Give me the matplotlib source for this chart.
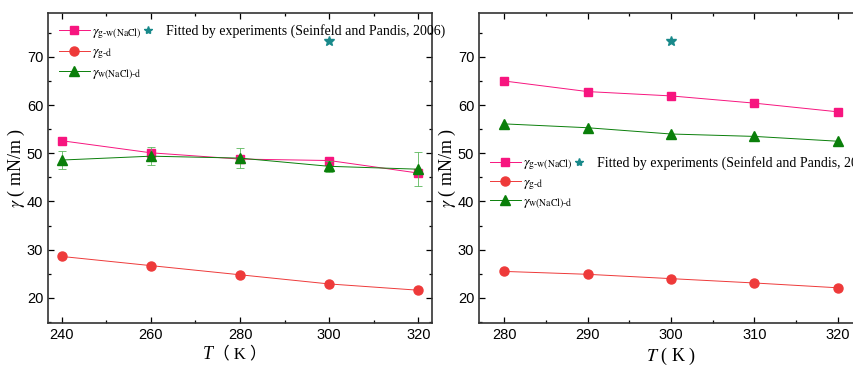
import matplotlib.pyplot as plt
from matplotlib.lines import Line2D
from matplotlib.ticker import MultipleLocator

plt.rcParams['font.family'] = ['Liberation Sans', 'DejaVu Sans']
plt.rcParams['mathtext.fontset'] = 'stix'

# left panel
T_left = [240, 260, 280, 300, 320]
gw_left = [52.6, 50.1, 48.8, 48.5, 45.9]
gd_left = [28.6, 26.7, 24.8, 22.9, 21.6]
wd_left = [48.6, 49.4, 49.0, 47.3, 46.7]
wd_left_err = [1.9, 1.9, 2.0, 1.2, 3.5]

# right panel
T_right = [280, 290, 300, 310, 320]
gw_right = [65.0, 62.8, 61.9, 60.4, 58.6]
gd_right = [25.5, 24.9, 24.0, 23.1, 22.1]
wd_right = [56.1, 55.3, 54.0, 53.5, 52.5]

# experimental value
T_exp = [300]
g_exp = [73.2]

c_gw = '#f7157f'
c_gd = '#ee3a3a'
c_wd = '#0a7f0a'
c_exp = '#18898a'

lab_gw = r'$\gamma_{\rm g\text{-}w(NaCl)}$'
lab_gd = r'$\gamma_{\rm g\text{-}d}$'
lab_wd = r'$\gamma_{\rm w(NaCl)\text{-}d}$'
lab_exp = 'Fitted by experiments (Seinfeld and Pandis, 2006)'

fig = plt.figure(figsize=(8.54, 3.68), dpi=100)
ax1 = fig.add_axes([0.0562, 0.1223, 0.4497, 0.8424])
ax2 = fig.add_axes([0.5609, 0.1223, 0.4496, 0.8424])


def draw(ax, T, gw, gd, wd, wd_err=None):
    ax.plot(T, gw, '-s', color=c_gw, lw=0.7, ms=6, zorder=3)
    ax.plot(T, gd, '-o', color=c_gd, lw=0.7, ms=6.5, zorder=3)
    if wd_err is not None:
        ax.errorbar(T, wd, yerr=wd_err, fmt='-^', color=c_wd, lw=0.7, ms=6.5,
                    elinewidth=0.6, capsize=3, capthick=0.6, ecolor='#5cb85c', zorder=4)
    else:
        ax.plot(T, wd, '-^', color=c_wd, lw=0.7, ms=6.5, zorder=3)
    ax.plot(T_exp, g_exp, '*', color=c_exp, ms=7, lw=0, zorder=3)
    ax.set_ylim(14.8, 79.1)
    ax.yaxis.set_major_locator(MultipleLocator(10))
    ax.yaxis.set_minor_locator(MultipleLocator(5))
    ax.tick_params(which='both', direction='in', top=True, right=True, labelsize=10.5)
    ax.tick_params(which='major', length=4, width=0.9)
    ax.tick_params(which='minor', length=2.5, width=0.9)
    for s in ax.spines.values():
        s.set_linewidth(1.2)
        s.set_color('#333333')
    ax.set_ylabel(r'$\gamma$' + ' ( mN/m )', family='Liberation Serif', fontsize=13, labelpad=0)

    h = [Line2D([], [], color=c_gw, marker='s', lw=0.7, ms=6),
         Line2D([], [], color=c_gd, marker='o', lw=0.7, ms=6.5),
         Line2D([], [], color=c_wd, marker='^', lw=0.7, ms=6.5),
         Line2D([], [], color=c_exp, marker='*', lw=0, ms=6),
         Line2D([], [], lw=0), Line2D([], [], lw=0)]
    l = [lab_gw, lab_gd, lab_wd, lab_exp, '', '']
    return h, l


h, l = draw(ax1, T_left, gw_left, gd_left, wd_left, wd_left_err)
ax1.set_xlim(236.9, 323.1)
ax1.xaxis.set_major_locator(MultipleLocator(20))
ax1.xaxis.set_minor_locator(MultipleLocator(10))
# full-width brackets need the CJK font, T stays italic serif
ax1.set_xlabel('\uff08 K \uff09', family=['Liberation Serif', 'Noto Sans CJK SC'],
               fontsize=12, labelpad=3)
ax1.annotate('T', xy=(0, 0.5), xycoords=ax1.xaxis.label, ha='right', va='center',
             style='italic', family='Liberation Serif', fontsize=13)
ax1.legend(h, l, ncol=2, loc='upper left', bbox_to_anchor=(0.0, 1.0), frameon=False,
           prop={'family': 'Liberation Serif', 'size': 10}, handlelength=2.2,
           handletextpad=0.2, columnspacing=-0.7, labelspacing=0.35, borderaxespad=0.4)

h, l = draw(ax2, T_right, gw_right, gd_right, wd_right)
ax2.set_xlim(277.0, 323.0)
ax2.xaxis.set_major_locator(MultipleLocator(10))
ax2.xaxis.set_minor_locator(MultipleLocator(5))
ax2.set_xlabel(r'$T$' + ' ( K )', family='Liberation Serif', fontsize=13, labelpad=3)
ax2.legend(h, l, ncol=2, loc='upper left', bbox_to_anchor=(0.0, 0.575), frameon=False,
           prop={'family': 'Liberation Serif', 'size': 10}, handlelength=2.2,
           handletextpad=0.2, columnspacing=-0.7, labelspacing=0.25, borderaxespad=0.4)

fig.savefig('out.png', dpi=100)
